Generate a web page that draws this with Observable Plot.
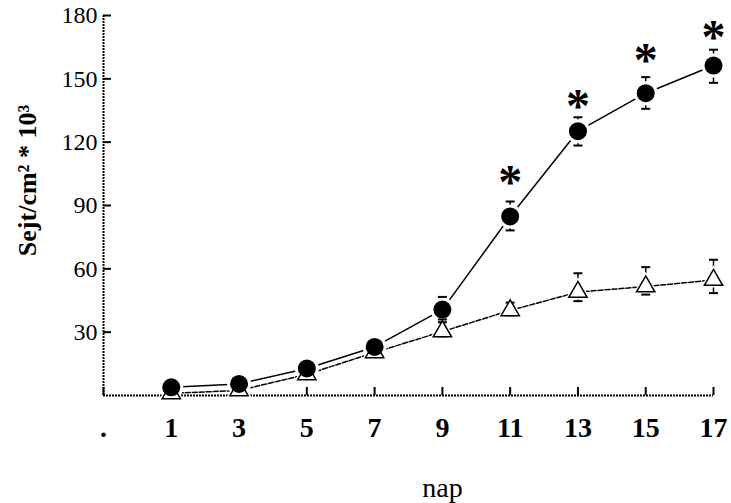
<!DOCTYPE html>
<html><head><meta charset="utf-8">
<script src="https://cdn.jsdelivr.net/npm/d3@7"></script>
<script src="https://cdn.jsdelivr.net/npm/@observablehq/plot@0.6"></script>
<style>body{margin:0;background:#fff} svg{display:block}</style>
</head><body><div id="chart"></div>
<script>
const days = [1, 3, 5, 7, 9, 11, 13, 15, 17];
const filledMean = [3.9, 5.5, 12.8, 23, 40.7, 84.8, 125.2, 143.2, 156.3];
const filledLow  = [2.5, 4, 11, 21, 34.7, 78.2, 118.4, 135.8, 148.1];
const filledHigh = [5.3, 7, 14.5, 25, 46.7, 91.9, 131.8, 150.8, 163.8];
const openMean = [1, 2.4, 10, 20.4, 30.3, 40.3, 49, 51.6, 54.7];
const openLow  = [0.5, 1.5, 9, 19, 28, 38, 44.7, 47.8, 48.5];
const openHigh = [2, 3.5, 12, 22, 36, 44, 57.9, 60.8, 64.3];
const starDays = [11, 13, 15, 17];
const starY = [105, 141, 163, 174];
const xTicks = [-1, 1, 3, 5, 7, 9, 11, 13, 15, 17];
const xTickLabels = [".", "1", "3", "5", "7", "9", "11", "13", "15", "17"];
const yTicks = [30, 60, 90, 120, 150, 180];
const yTitle = "Sejt/cm² * 10³";
const xTitle = "nap";

const filled = days.map((d, i) => ({day: d, v: filledMean[i], lo: filledLow[i], hi: filledHigh[i]}));
const open = days.map((d, i) => ({day: d, v: openMean[i], lo: openLow[i], hi: openHigh[i]}));
const caps = [...filled, ...open].flatMap(d => [{day: d.day, y: d.lo}, {day: d.day, y: d.hi}]);
const stars = starDays.map((d, i) => ({day: d, y: starY[i]}));
const capSymbol = {draw(ctx, size) { const w = Math.sqrt(size / Math.PI); ctx.moveTo(-w, 0); ctx.lineTo(w, 0); }};
const serif = "'Liberation Serif', 'Times New Roman', serif";

const chart = Plot.plot({
  width: 731, height: 503,
  marginLeft: 103, marginRight: 18, marginTop: 15, marginBottom: 108,
  style: {fontFamily: serif, background: "#fff", color: "#000"},
  x: {domain: [-1, 17]},
  y: {domain: [0, 180]},
  marks: [
    Plot.ruleY([0], {stroke: "#000", strokeWidth: 2, strokeDasharray: "2,1"}),
    Plot.ruleX([-1], {stroke: "#000", strokeWidth: 2, strokeDasharray: "2,1"}),
    Plot.axisY({ticks: yTicks, tickSize: -8, tickPadding: 14, strokeWidth: 2, fontSize: 24, label: null}),
    Plot.axisX({ticks: xTicks, tickFormat: d => xTickLabels[xTicks.indexOf(d)], tickSize: -8, tickPadding: 30, strokeWidth: 2, fontSize: 28, fontWeight: "bold", label: null}),
    Plot.line(open, {x: "day", y: "v", stroke: "#000", strokeWidth: 1.5, strokeDasharray: "5,2"}),
    Plot.line(filled, {x: "day", y: "v", stroke: "#000", strokeWidth: 1.5}),
    Plot.ruleX([...filled, ...open], {x: "day", y1: "lo", y2: "hi", stroke: "#000", strokeWidth: 1.5}),
    Plot.dot(open, {x: "day", y: "v", symbol: "triangle", r: 9.5, fill: "#fff", stroke: "none"}),
    Plot.dot(filled, {x: "day", y: "v", r: 12, fill: "#fff", stroke: "none"}),
    Plot.dot(caps, {x: "day", y: "y", symbol: capSymbol, r: 4.5, stroke: "#000", strokeWidth: 2, fill: "none"}),
    Plot.dot(open, {x: "day", y: "v", symbol: "triangle", r: 6.8, fill: "#fff", stroke: "#000", strokeWidth: 1.5}),
    Plot.dot(filled, {x: "day", y: "v", r: 9, fill: "#000", stroke: "none"}),
    Plot.text(stars, {x: "day", y: "y", text: () => "*", fontSize: 48, fontWeight: "bold", dy: 9, fill: "#000"}),
    Plot.text([yTitle], {frameAnchor: "left", textAnchor: "middle", rotate: -90, dx: -76, dy: -25, fontSize: 26, fontWeight: "bold", fill: "#000"}),
    Plot.text([xTitle], {frameAnchor: "bottom", textAnchor: "middle", dx: 34, dy: 101, fontSize: 28, fill: "#000"})
  ]
});
document.getElementById("chart").append(chart);
</script>
</body></html>
